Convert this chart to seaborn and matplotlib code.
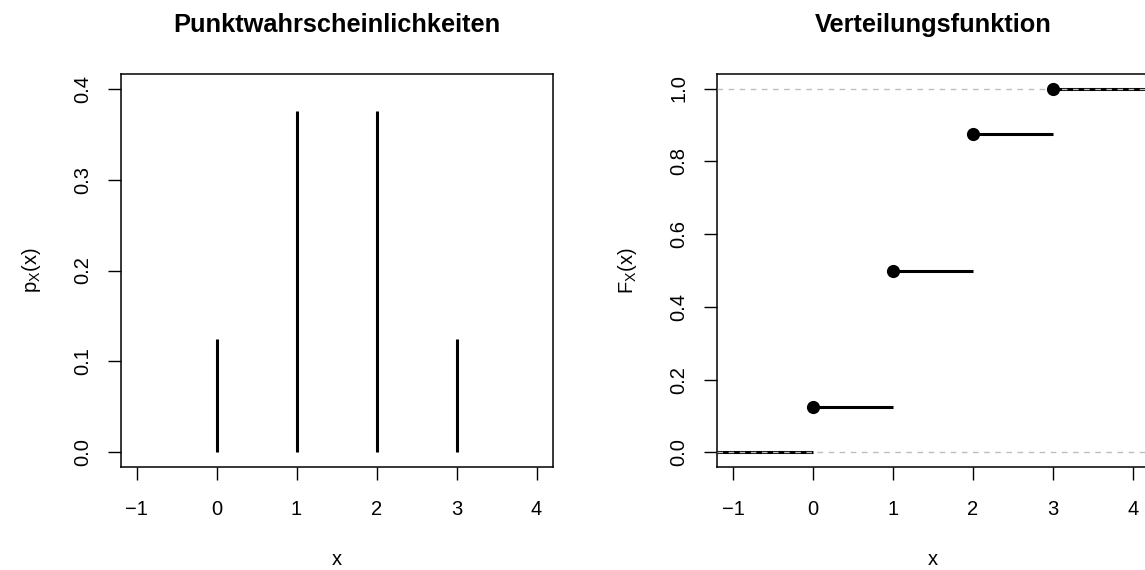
import numpy as np
import matplotlib
matplotlib.use("Agg")
import matplotlib.pyplot as plt
import seaborn as sns

# ── Data ──────────────────────────────────────────────────────────────────────
x_vals = [0, 1, 2, 3]
p_vals = [0.125, 0.375, 0.375, 0.125]
F_vals = [0.125, 0.5, 0.875, 1.0]
x_ticks = [-1, 0, 1, 2, 3, 4]
p_ticks = [0.0, 0.1, 0.2, 0.3, 0.4]
F_ticks = [0.0, 0.2, 0.4, 0.6, 0.8, 1.0]

sns.set_style("white")
plt.rcParams["font.family"] = ["Liberation Sans", "DejaVu Sans"]
plt.rcParams["text.color"] = "black"
plt.rcParams["axes.labelcolor"] = "black"

W, H = 1145, 570
fig = plt.figure(figsize=(W / 100, H / 100), dpi=100)

TICK_FS = 14.5
TITLE_FS = 18.3


def px_axes(left, top, right, bottom):
    return fig.add_axes([left / W, 1 - bottom / H, (right - left) / W, (bottom - top) / H])


def style_r(ax, xticks, yticks, yfmt):
    # base-R look: full box, outward ticks, rotated y labels
    for s in ax.spines.values():
        s.set_visible(True)
        s.set_color("black")
        s.set_linewidth(1.1)
    ax.set_xticks(xticks)
    ax.set_xticklabels(["\u2212" + str(-t) if t < 0 else str(t) for t in xticks])
    ax.set_yticks(yticks)
    ax.set_yticklabels([yfmt.format(t) for t in yticks], rotation=90, va="center")
    ax.tick_params(axis="both", direction="out", length=9.4, width=1, color="black",
                   labelsize=TICK_FS, labelcolor="black", bottom=True, left=True)
    ax.tick_params(axis="x", pad=14.5)
    ax.tick_params(axis="y", pad=11)


def labels(ax, title, ylabel):
    ax.set_title(title, fontsize=TITLE_FS, fontweight="bold", color="black", pad=30)
    ax.set_xlabel("x", fontsize=TICK_FS, labelpad=22)
    ax.set_ylabel(ylabel, fontsize=TICK_FS, labelpad=22)


# ── Left: probability mass function ─────────────────────────────────────────
ax1 = px_axes(120.5, 74, 552.5, 467)
ax1.vlines(x_vals, 0, p_vals, color="black", linewidth=2.2)
ax1.set_xlim(-1.2, 4.2)
ax1.set_ylim(-0.016, 0.416)
style_r(ax1, x_ticks, p_ticks, "{:.1f}")
labels(ax1, "Punktwahrscheinlichkeiten", r"p$_\mathregular{X}$(x)")

# ── Right: cumulative distribution function ─────────────────────────────────
ax2 = px_axes(717, 74, 1149, 467)
xmin, xmax = -1.2, 4.2
starts = [xmin - 1] + x_vals
ends = x_vals + [xmax + 1]
levels = [0.0] + F_vals
ax2.hlines(levels, starts, ends, color="black", linewidth=2.2, zorder=2)
ax2.axhline(0, color="#bebebe", linestyle=(0, (4, 4)), linewidth=1, zorder=3)
ax2.axhline(1, color="#bebebe", linestyle=(0, (4, 4)), linewidth=1, zorder=3)
sns.scatterplot(x=x_vals, y=F_vals, ax=ax2, color="black", s=90, edgecolor="black",
                linewidth=0, zorder=5)
ax2.set_xlim(xmin, xmax)
ax2.set_ylim(-0.04, 1.04)
style_r(ax2, x_ticks, F_ticks, "{:.1f}")
labels(ax2, "Verteilungsfunktion", r"F$_\mathregular{X}$(x)")

fig.savefig("out.png", dpi=100)
